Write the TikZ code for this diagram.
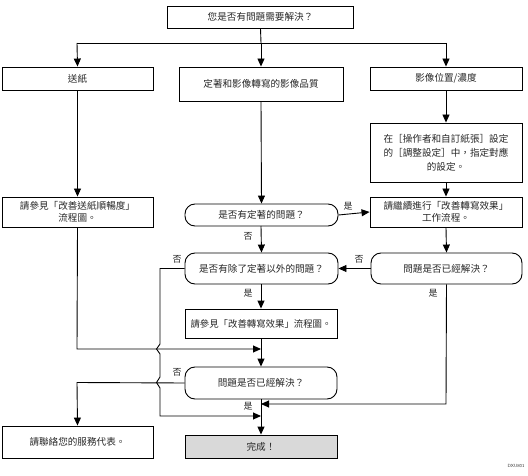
\documentclass[tikz,border=0pt]{standalone}
\usepackage{fontspec}
\newfontfamily\cjk{Noto Sans CJK TC}
\usetikzlibrary{arrows.meta}
\begin{document}
\begin{tikzpicture}[x=1pt,y=-1pt,
  every node/.style={font=\cjk\fontsize{9.6}{12}\selectfont, text=black!85},
  box/.style={draw=black, line width=0.9pt, align=center, inner sep=1pt},
  dec/.style={draw=black, line width=0.9pt, align=center, inner sep=1pt, rounded corners=10pt},
  arr/.style={line width=0.9pt, -{Triangle[length=8pt,width=7pt]}},
  ln/.style={line width=0.9pt},
  lbl/.style={font=\cjk\fontsize{9}{10}\selectfont, inner sep=0pt}]
\useasboundingbox (0,0) rectangle (528,476);

\node[box, minimum width=186pt, minimum height=22pt] (top) at (260.5,17) {您是否有問題需要解決？};
\node[box, minimum width=151pt, minimum height=23pt] (feed) at (77.5,78.5) {送紙};
\node[box, minimum width=164pt, minimum height=34pt] (mid) at (261,84) {定著和影像轉寫的影像品質};
\node[box, minimum width=152pt, minimum height=23pt] (pos) at (446,78.5) {影像位置/濃度};
\node[box, minimum width=152pt, minimum height=59pt, font=\cjk\fontsize{9.6}{14}\selectfont] (set) at (446,152.5) {在［操作者和自訂紙張］設定\\的［調整設定］中，指定對應\\的設定。};
\node[box, minimum width=151pt, minimum height=30pt] (feed2) at (77.5,212) {請參見「改善送紙順暢度」\\流程圖。};
\node[dec, minimum width=153pt, minimum height=22pt] (d1) at (261.5,215) {是否有定著的問題？};
\node[box, minimum width=152pt, minimum height=30pt] (cont) at (446,212) {請繼續進行「改善轉寫效果」\\工作流程。};
\node[dec, minimum width=153pt, minimum height=31pt] (d2) at (261.5,268.5) {是否有除了定著以外的問題？};
\node[dec, minimum width=151pt, minimum height=31pt] (dr) at (446.5,268.5) {問題是否已經解決？};
\node[box, minimum width=152pt, minimum height=29pt, inner sep=0pt, font=\cjk\fontsize{9.4}{12}\selectfont] (see) at (261,323.5) {請參見「改善轉寫效果」流程圖。};
\node[dec, minimum width=152pt, minimum height=32pt] (d3) at (261,383) {問題是否已經解決？};
\node[box, minimum width=151pt, minimum height=32pt] (rep) at (77.5,442) {請聯絡您的服務代表。};
\node[box, fill=black!15, minimum width=152pt, minimum height=23pt] (done) at (261,446.5) {完成！};
\node[font=\fontsize{4.5}{5}\selectfont\sffamily, text=black!80, inner sep=0pt] (code) at (516,466) {DXU801};

% top distribution
\coordinate (t0) at (261,43);
\draw[ln] (top.south) -- (t0);
\draw[ln] (77,43) -- (446,43);
\draw[arr] (77,43) -- (feed.north);
\draw[arr] (t0) -- (mid.north);
\draw[arr] (446,43) -- (pos.north);

\draw[arr] (feed.south) -- (feed2.north);
\draw[arr] (mid.south) -- (d1.north);
\draw[arr] (pos.south) -- (set.north);
\draw[arr] (set.south) -- (cont.north);
\draw[arr] (d1.east) -- (cont.west);
\draw[arr] (cont.south) -- (dr.north);
\draw[arr] (dr.west) -- (d2.east);
\draw[arr] (261,226) -- (d2.north);
\draw[arr] (261,284) -- (see.north);
\draw[arr] (see.south) -- (d3.north);
\draw[arr] (feed2.south) -- (77,349) -- (261,349);
\draw[arr] (d2.west) -- (160,268.5) -- (160,344)
   to[out=-90,in=90] (156.5,349) to[out=-90,in=90] (160,354) -- (160,377)
   to[out=-90,in=90] (156.5,382.5) to[out=-90,in=90] (160,388) -- (160,416) -- (261,416);
\draw[arr] (d3.west) -- (77,382.5) -- (rep.north);
\draw[arr] (261,399) -- (done.north);
\draw[arr] (dr.south) -- (446,404) -- (261,404);

% labels
\node[lbl] (l1) at (348,206) {是};
\node[lbl] (l2) at (248,236) {否};
\node[lbl] (l3) at (177,259) {否};
\node[lbl] (l4) at (359,259) {否};
\node[lbl] (l5) at (248,293) {是};
\node[lbl] (l6) at (433,293) {是};
\node[lbl] (l7) at (177,372) {否};
\node[lbl] (l8) at (248,406) {是};
\end{tikzpicture}
\end{document}
